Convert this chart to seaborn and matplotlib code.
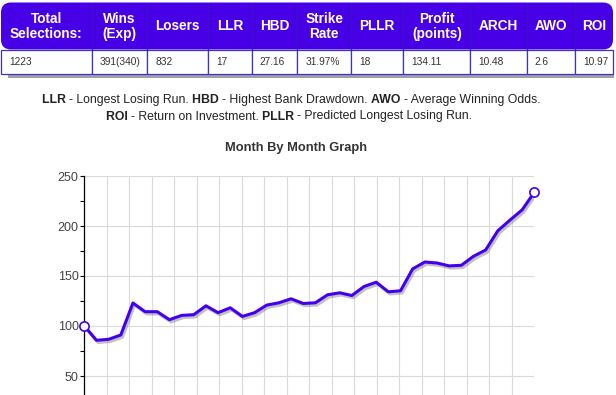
import numpy as np
import matplotlib
matplotlib.use("Agg")
import matplotlib.pyplot as plt
import matplotlib.patheffects as pe
from matplotlib.patches import FancyBboxPatch, Rectangle
from matplotlib.ticker import MultipleLocator
import seaborn as sns

# summary table
headers = ["Total\nSelections:", "Wins\n(Exp)", "Losers", "LLR", "HBD", "Strike\nRate",
           "PLLR", "Profit\n(points)", "ARCH", "AWO", "ROI"]
row = ["1223", "391(340)", "832", "17", "27.16", "31.97%", "18", "134.11", "10.48", "2.6", "10.97"]

# running bank, month by month
bank = [100, 85.7, 86.7, 91, 123, 114.3, 114.3, 106.3, 110.6, 111.3,
        120.2, 113.3, 118.2, 109.6, 113.3, 120.9, 123.2, 127.2, 122.5, 123.2,
        131.2, 133.2, 130.5, 139.5, 143.8, 134.2, 135.2, 157.1, 164, 163,
        160.1, 160.7, 169.7, 176, 195.2, 205.9, 216.1, 233.7]
month = list(range(len(bank)))

key_line1 = [("LLR ", "bold"), ("- Longest Losing Run. ", "normal"),
             ("HBD ", "bold"), ("- Highest Bank Drawdown. ", "normal"),
             ("AWO ", "bold"), ("- Average Winning Odds.", "normal")]
key_line2 = [("ROI ", "bold"), ("- Return on Investment. ", "normal"),
             ("PLLR ", "bold"), ("- Predicted Longest Losing Run.", "normal")]

purple = "#4700e5"
line_c = "#4400ee"

sns.set_theme(style="white")
plt.rcParams["font.family"] = ["Liberation Sans", "DejaVu Sans"]

fig = plt.figure(figsize=(6.16, 3.95), dpi=100, facecolor="white")
bg = fig.add_axes([0, 0, 1, 1])
bg.set_xlim(0, 616)
bg.set_ylim(395, 0)
bg.axis("off")

# table
col_edges = [1, 91.7, 147.3, 208.3, 251.7, 297.3, 351, 403.3, 470.3, 526.7, 575.3, 613]
head_top, head_bot, body_bot = 2.5, 49.5, 74

bg.add_patch(Rectangle((8, body_bot), 606, 3.5, color="#8a8a8a", alpha=0.8, lw=0))
bg.add_patch(FancyBboxPatch((col_edges[0], head_top), col_edges[-1] - col_edges[0],
                            head_bot - head_top,
                            boxstyle="round,pad=0,rounding_size=10",
                            fc=purple, ec="none"))
for i, (h, v) in enumerate(zip(headers, row)):
    x0, x1 = col_edges[i], col_edges[i + 1]
    if i > 0:
        bg.plot([x0, x0], [head_top, head_bot], color="#3b14c4", lw=0.8)
    bg.add_patch(Rectangle((x0, head_bot), x1 - x0, body_bot - head_bot,
                           fc="white", ec="#3d33c8", lw=0.9))
    bg.text((x0 + x1) / 2, (head_top + head_bot) / 2 + 0.5, h, ha="center", va="center",
            color="white", fontsize=9.8, fontweight="bold", linespacing=1.15)
    bg.text(x0 + 8, (head_bot + body_bot) / 2 + 0.5, v, ha="left", va="center",
            color="#333333", fontsize=7.3)


def rich_line(y, pieces, cx, size):
    r = fig.canvas.get_renderer()
    widths = []
    for s, w in pieces:
        t1 = bg.text(0, 0, "|" + s + "|", fontsize=size, fontweight=w)
        t2 = bg.text(0, 0, "||", fontsize=size, fontweight=w)
        widths.append(t1.get_window_extent(r).width - t2.get_window_extent(r).width)
        t1.remove()
        t2.remove()
    x = cx - sum(widths) / 2
    for (s, w), wd in zip(pieces, widths):
        bg.text(x, y, s, fontsize=size, fontweight=w, ha="left", va="center",
                color="#222222")
        x += wd


rich_line(100, key_line1, 291, 8.8)
rich_line(116.5, key_line2, 289, 8.8)
bg.text(296, 147.5, "Month By Month Graph", ha="center", va="center",
        fontsize=9.3, fontweight="bold", color="#333333")

# chart (the lower part runs off the bottom of the picture)
ax = fig.add_axes([84.3 / 616, 1 - 401 / 395, 450 / 616, 225 / 395])
sns.lineplot(x=month, y=bank, ax=ax, color=line_c, lw=2.2, zorder=4,
             path_effects=[pe.SimpleLineShadow(offset=(1.2, -1.6), shadow_color="#777777",
                                               alpha=0.45), pe.Normal()])
sns.scatterplot(x=[month[0], month[-1]], y=[bank[0], bank[-1]], ax=ax, s=44,
                facecolor="white", edgecolor=line_c, linewidth=1.2, zorder=6,
                clip_on=False)

ax.set_xlim(month[0], month[-1])
ax.set_ylim(25, 250)
ax.set_xticks(np.linspace(month[0], month[-1], 21))
ax.tick_params(axis="x", length=0, labelbottom=False)
ax.yaxis.set_major_locator(MultipleLocator(50))
ax.yaxis.set_minor_locator(MultipleLocator(25))
ax.tick_params(axis="y", which="both", left=True, length=2.6, width=0.8, color="black",
               labelsize=9, labelcolor="#444444", pad=1.5, direction="out")
ax.grid(True, which="major", color="#dadada", lw=0.8)
ax.set_xlabel("")
ax.set_ylabel("")
for s in ["top", "right", "bottom"]:
    ax.spines[s].set_visible(False)
ax.spines["left"].set_color("black")
ax.spines["left"].set_linewidth(0.9)
ax.set_facecolor("white")

fig.savefig("out.png", dpi=100, facecolor="white")
